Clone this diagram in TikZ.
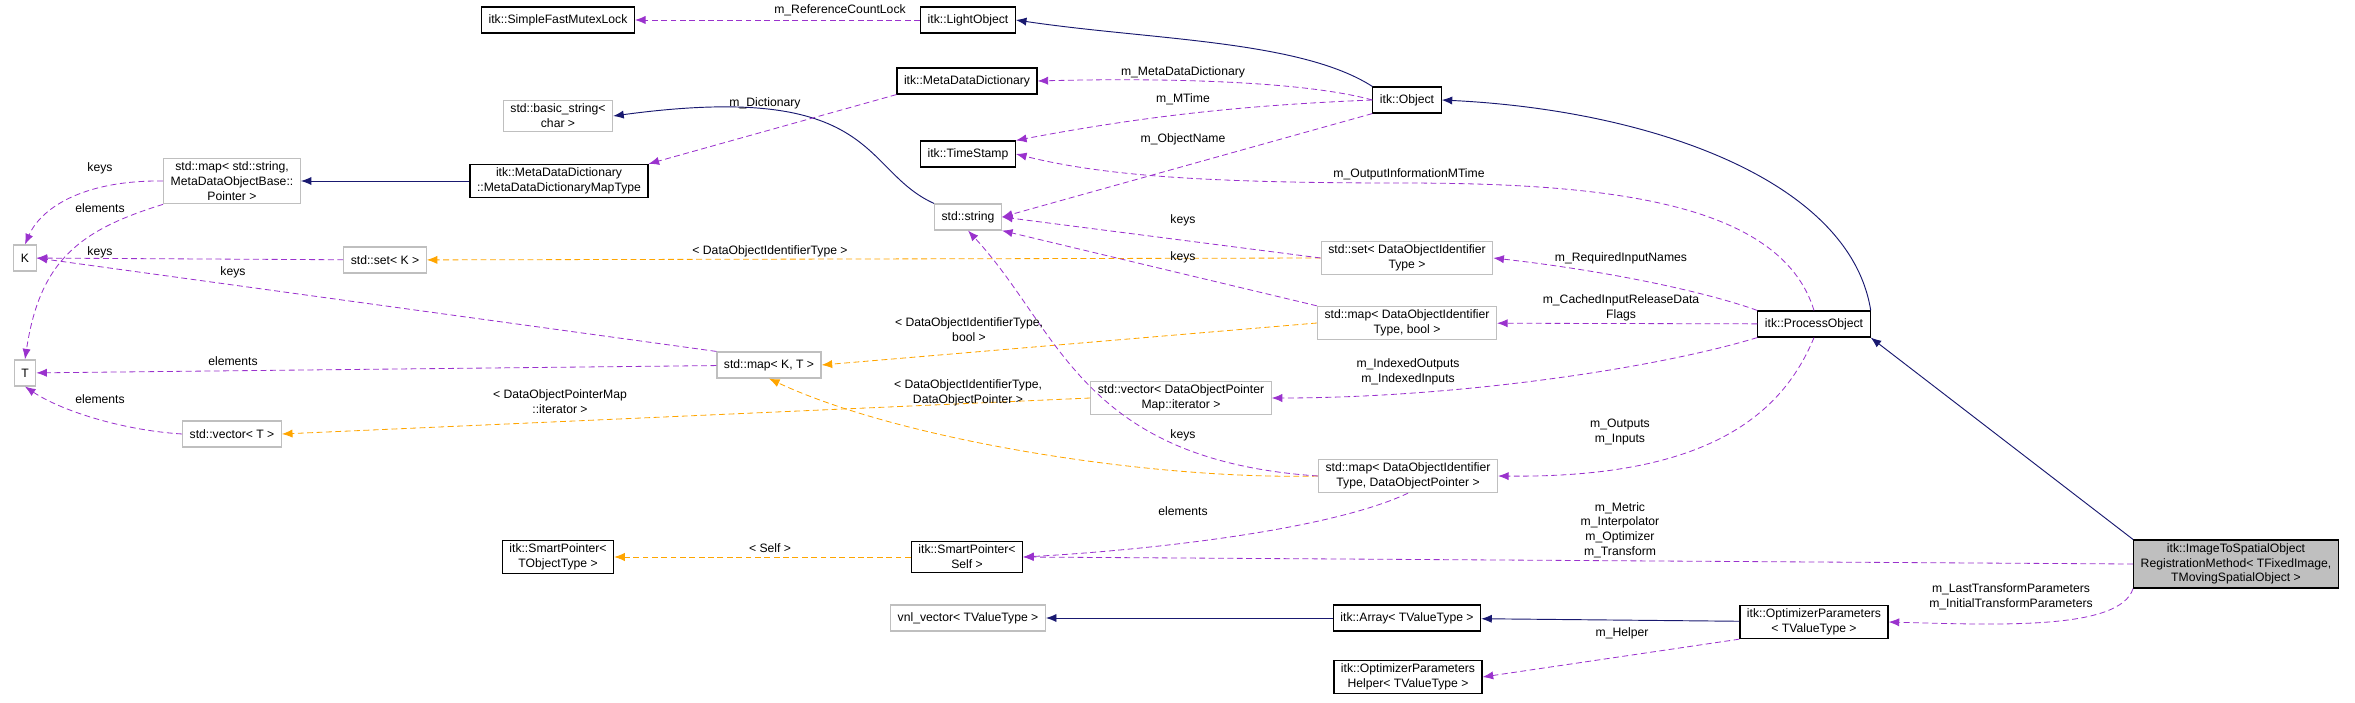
\documentclass[tikz,border=0pt]{standalone}
\usepackage{fontspec}
\setmainfont{Liberation Sans}
\usetikzlibrary{arrows.meta,positioning}
\definecolor{memb}{HTML}{9A32CD}
\definecolor{tmpl}{HTML}{FFA500}
\definecolor{inh}{HTML}{191970}
\definecolor{extb}{HTML}{BFBFBF}
\tikzset{
  cls/.style={draw=black,line width=1pt,inner xsep=6pt,inner ysep=3pt,minimum height=0.78cm,align=center,font=\fontsize{10.4}{12.6}\selectfont},
  ext/.style={cls,draw=extb},
  top/.style={cls,fill=extb},
  lbl/.style={align=center,inner sep=0pt,font=\fontsize{10.4}{12.6}\selectfont},
  tip/.style={-{Latex[length=9pt,width=7pt]}},
  member/.style={draw=memb,dash pattern=on 5pt off 3pt,line width=0.7pt,tip},
  inst/.style={draw=tmpl,dash pattern=on 5pt off 3pt,line width=0.7pt,tip},
  inherit/.style={draw=inh,line width=0.8pt,tip},
}
\begin{document}
\begin{tikzpicture}[x=0.03cm,y=-0.03cm]
\useasboundingbox (0,0) rectangle (2355,703);

% classes
\node[cls] (mutex) at (558,20) {itk::SimpleFastMutexLock};
\node[cls] (light) at (968,20) {itk::LightObject};
\node[cls] (mdd) at (967,81) {itk::MetaDataDictionary};
\node[cls] (object) at (1407,100) {itk::Object};
\node[ext] (bstring) at (558,116) {std::basic\_string\textless\\char \textgreater};
\node[cls] (stamp) at (968,154) {itk::TimeStamp};
\node[ext] (smap) at (232,181) {std::map\textless{} std::string,\\MetaDataObjectBase::\\Pointer \textgreater};
\node[cls] (maptype) at (559,181) {itk::MetaDataDictionary\\::MetaDataDictionaryMapType};
\node[ext] (string) at (968,217) {std::string};
\node[ext] (K) at (25,258) {K};
\node[ext] (setK) at (385,260) {std::set\textless{} K \textgreater};
\node[ext] (setid) at (1407,258) {std::set\textless{} DataObjectIdentifier\\Type \textgreater};
\node[ext] (mapbool) at (1407,323) {std::map\textless{} DataObjectIdentifier\\Type, bool \textgreater};
\node[cls] (process) at (1814,324) {itk::ProcessObject};
\node[ext] (T) at (25,373) {T};
\node[ext] (mapKT) at (769,365) {std::map\textless{} K, T \textgreater};
\node[ext] (vecmap) at (1181,398) {std::vector\textless{} DataObjectPointer\\Map::iterator \textgreater};
\node[ext] (vecT) at (232,434) {std::vector\textless{} T \textgreater};
\node[ext] (mapptr) at (1408,476) {std::map\textless{} DataObjectIdentifier\\Type, DataObjectPointer \textgreater};
\node[cls] (sptr) at (558,557) {itk::SmartPointer\textless\\TObjectType \textgreater};
\node[cls] (sself) at (967,557) {itk::SmartPointer\textless\\Self \textgreater};
\node[top] (reg) at (2236,564) {itk::ImageToSpatialObject\\RegistrationMethod\textless{} TFixedImage,\\TMovingSpatialObject \textgreater};
\node[ext] (vnl) at (968,618) {vnl\_vector\textless{} TValueType \textgreater};
\node[cls] (array) at (1407,618) {itk::Array\textless{} TValueType \textgreater};
\node[cls] (optpar) at (1814,622) {itk::OptimizerParameters\\\textless{} TValueType \textgreater};
\node[cls] (helper) at (1408,677) {itk::OptimizerParameters\\Helper\textless{} TValueType \textgreater};

% inheritance
\draw[inherit] (object.north west) .. controls (1300,40) and (1150,40) .. (light.east);
\draw[inherit] (string.north west) .. controls (860,170) and (880,80) .. (bstring.east);
\draw[inherit] (maptype) -- (smap);
\draw[inherit] (process.north east) .. controls (1850,180) and (1650,110) .. (object.east);
\draw[inherit] (reg.north west) -- (process.south east);
\draw[inherit] (optpar) -- (array);
\draw[inherit] (array) -- (vnl);

% template instances
\draw[inst] (setid.west) -- (setK);
\draw[inst] (mapbool.west) -- (mapKT.east);
\draw[inst] (mapptr.west) .. controls (1150,480) and (900,440) .. (mapKT.south);
\draw[inst] (vecmap.west) -- (vecT.east);
\draw[inst] (sself) -- (sptr);

% members
\draw[member] (light) -- (mutex);
\draw[member] (object.west) .. controls (1300,80) and (1150,78) .. (mdd.east);
\draw[member] (object.west) .. controls (1250,105) and (1150,115) .. (stamp.north east);
\draw[member] (object.south west) -- (string.east);
\draw[member] (mdd.south west) -- (maptype.north east);
\draw[member] (smap.west) .. controls (80,180) and (40,210) .. (K.north);
\draw[member] (smap.south west) .. controls (80,230) and (40,260) .. (T.north);
\draw[member] (setK) -- (K);
\draw[member] (mapKT.north west) -- (K.east);
\draw[member] (mapKT) -- (T);
\draw[member] (vecT.west) .. controls (120,430) and (60,410) .. (T.south);
\draw[member] (setid.west) -- (string.east);
\draw[member] (mapbool.north west) -- (string.south east);
\draw[member] (mapptr.west) .. controls (1080,460) and (1060,330) .. (string.south);
\draw[member] (mapptr.south) .. controls (1330,530) and (1150,550) .. (sself.east);
\draw[member] (process.north) .. controls (1780,200) and (1600,183) .. (1400,183) .. controls (1200,183) and (1100,175) .. (stamp.east);
\draw[member] (process.north west) .. controls (1700,290) and (1600,270) .. (setid.east);
\draw[member] (process) -- (mapbool);
\draw[member] (process.south west) .. controls (1650,370) and (1450,398) .. (vecmap.east);
\draw[member] (process.south) .. controls (1780,420) and (1700,478) .. (mapptr.east);
\draw[member] (reg.west) -- (sself.east);
\draw[member] (reg.south west) .. controls (2120,630) and (2000,625) .. (optpar.east);
\draw[member] (optpar.south west) -- (helper.east);

% labels
\node[lbl] (lmutex) at (840,10) {m\_ReferenceCountLock};
\node[lbl] (lmdd) at (1183,72) {m\_MetaDataDictionary};
\node[lbl] (ldict) at (765,103) {m\_Dictionary};
\node[lbl] (lmtime) at (1183,99) {m\_MTime};
\node[lbl] (lname) at (1183,139) {m\_ObjectName};
\node[lbl] (loutinfo) at (1409,174) {m\_OutputInformationMTime};
\node[lbl] (lkeys1) at (100,168) {keys};
\node[lbl] (lelem1) at (100,208) {elements};
\node[lbl] (lkeys2) at (100,252) {keys};
\node[lbl] (lkeys3) at (233,272) {keys};
\node[lbl] (lelem2) at (233,361) {elements};
\node[lbl] (lelem3) at (100,399) {elements};
\node[lbl] (lkeys4) at (1183,220) {keys};
\node[lbl] (lkeys5) at (1183,257) {keys};
\node[lbl] (lkeys6) at (1183,435) {keys};
\node[lbl] (lelem4) at (1183,511) {elements};
\node[lbl] (lsetid) at (770,251) {\textless{} DataObjectIdentifierType \textgreater};
\node[lbl] (lmapbool) at (969,330) {\textless{} DataObjectIdentifierType,\\bool \textgreater};
\node[lbl] (lmapptr) at (968,393) {\textless{} DataObjectIdentifierType,\\DataObjectPointer \textgreater};
\node[lbl] (lvecmap) at (560,402) {\textless{} DataObjectPointerMap\\::iterator \textgreater};
\node[lbl] (lself) at (770,548) {\textless{} Self \textgreater};
\node[lbl] (lreq) at (1621,258) {m\_RequiredInputNames};
\node[lbl] (lcached) at (1621,308) {m\_CachedInputReleaseData\\Flags};
\node[lbl] (lindexed) at (1408,372) {m\_IndexedOutputs\\m\_IndexedInputs};
\node[lbl] (lio) at (1620,432) {m\_Outputs\\m\_Inputs};
\node[lbl] (lcomp) at (1620,530) {m\_Metric\\m\_Interpolator\\m\_Optimizer\\m\_Transform};
\node[lbl] (lparams) at (2011,597) {m\_LastTransformParameters\\m\_InitialTransformParameters};
\node[lbl] (lhelper) at (1622,633) {m\_Helper};
\end{tikzpicture}
\end{document}
